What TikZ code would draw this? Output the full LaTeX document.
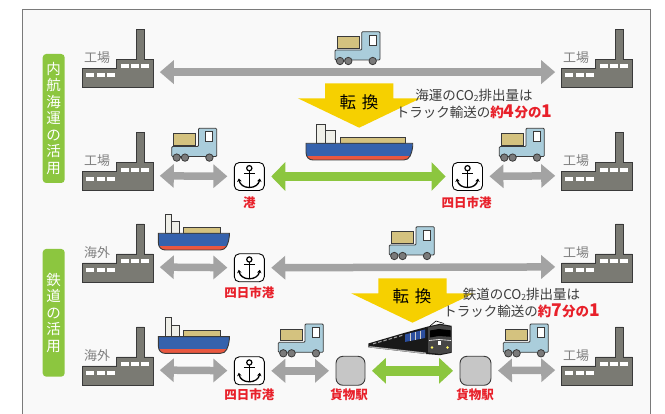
\documentclass[tikz,border=0pt]{standalone}
\usepackage{fontspec}
\setmainfont{Noto Sans CJK JP}
\usetikzlibrary{arrows.meta}

\definecolor{cPanel}{HTML}{F9F9F9}
\definecolor{cFrame}{HTML}{7A7A7A}
\definecolor{cArrow}{HTML}{A3A3A3}
\definecolor{cLeaf}{HTML}{8CC63F}
\definecolor{cSignal}{HTML}{F6D000}
\definecolor{cFactory}{HTML}{7A7A73}
\definecolor{cLine}{HTML}{3A3A3A}
\definecolor{cCargo}{HTML}{D4C27F}
\definecolor{cCab}{HTML}{AACDDB}
\definecolor{cWheel}{HTML}{7A7A7A}
\definecolor{cHull}{HTML}{3562AD}
\definecolor{cKeel}{HTML}{E9573F}
\definecolor{cBridge}{HTML}{EFEFE8}
\definecolor{cRed}{HTML}{E8202A}
\definecolor{cGrayText}{HTML}{808080}
\definecolor{cNote}{HTML}{3D3D3D}
\definecolor{cStation}{HTML}{C6C6C6}
\definecolor{cTrainBlue}{HTML}{2C4F9E}

% CO2 with a lowered small 2
\newcommand{\cotwo}{CO\raisebox{-1.2pt}{\fontsize{8.5}{8.5}\selectfont 2}}
\newcommand{\bignum}[1]{{\fontsize{17.5}{16.5}\selectfont #1}}

% ship hull: blue body with a red keel stripe
\newcommand{\hullshape}[1]{%
  \begin{scope}
    \clip (0,0) -- (#1,0) -- (#1,3) .. controls (#1-1,11) and (#1-3,16.7) .. (#1-9,16.7) -- (7,16.7) .. controls (3,16.7) and (0,14) .. (0,9) -- cycle;
    \fill[cHull] (-1,-1) rectangle (#1+1,12.7);
    \fill[cKeel] (-1,12.7) rectangle (#1+1,18);
  \end{scope}
  \draw[cLine, line width=0.9pt] (0,0) -- (#1,0) -- (#1,3) .. controls (#1-1,11) and (#1-3,16.7) .. (#1-9,16.7) -- (7,16.7) .. controls (3,16.7) and (0,14) .. (0,9) -- cycle;
}

\tikzset{
  pics/factory/.style={code={
    \filldraw[fill=cFactory, draw=cLine, line width=0.9pt] (0,0) -- (70.6,0) -- (70.6,-28) -- (61.3,-28) -- (61.3,-58) -- (54,-58) -- (54,-28) -- (34,-28) -- (34,-19) -- (0,-19) -- cycle;
    \foreach \wx in {3.3,14,24.7} \fill[white] (\wx,-14) rectangle ++(8,4);
    \foreach \wx in {38.3,48.3,58.3} \fill[white] (\wx,-23) rectangle ++(8,4);
  }},
  pics/truck/.style={code={
    \filldraw[fill=cCargo, draw=cLine, line width=0.8pt] (2,5) rectangle (24,16.7);
    \filldraw[fill=cCab, draw=cLine, line width=0.8pt, rounded corners=1pt] (0,18.3) -- (26.7,18.3) -- (26.7,0) -- (45,0) -- (45,28.3) -- (0,28.3) -- cycle;
    \filldraw[fill=white, draw=cLine, line width=0.7pt] (34,3.3) rectangle (41,13.3);
    \foreach \wx in {5,13.3,37.7} \filldraw[fill=cWheel, draw=cLine, line width=0.8pt] (\wx,29.3) circle (3.7pt);
  }},
  pics/bigship/.style={code={
    \filldraw[fill=cBridge, draw=cLine, line width=0.7pt] (10.7,-19) rectangle (19.7,0);
    \filldraw[fill=cBridge, draw=cLine, line width=0.7pt] (19.7,-12.6) rectangle (29.7,0);
    \filldraw[fill=cCargo, draw=cLine, line width=0.7pt] (34,-6) rectangle (99,0);
    \hullshape{106.7}
  }},
  pics/smallship/.style={code={
    \filldraw[fill=cBridge, draw=cLine, line width=0.7pt] (7.4,-19.3) rectangle (13.4,0);
    \filldraw[fill=cBridge, draw=cLine, line width=0.7pt] (13.4,-11.6) rectangle (21,0);
    \filldraw[fill=cCargo, draw=cLine, line width=0.7pt] (25,-6) rectangle (62.4,0);
    \hullshape{71}
  }},
  pics/anchorsign/.style={code={
    \draw[line width=1.2pt] (0,-8.3) circle (2.6pt);
    \draw[line width=1.3pt] (0,-5.7) -- (0,10.8);
    \draw[line width=1.3pt] (-5.5,-3.3) -- (5.5,-3.3);
    \draw[line width=1.3pt, {Stealth[length=3.2pt,width=4.5pt]}-{Stealth[length=3.2pt,width=4.5pt]}] (-10.5,2) .. controls (-9.5,8) and (-5.5,11) .. (0,11) .. controls (5.5,11) and (9.5,8) .. (10.5,2);
  }},
  pics/shiftarrow/.style={code={
    \fill[cSignal] (-34.2,0) -- (34.2,0) -- (34.2,15) -- (61.3,15) -- (0,44.4) -- (-61.3,15) -- (-34.2,15) -- cycle;
  }},
  facbox/.style={anchor=south west, minimum width=70.6pt, minimum height=58pt, inner sep=0pt, outer sep=0pt},
  facport/.style={anchor=south west, minimum width=70.6pt, minimum height=2pt, inner sep=0pt, outer sep=0pt},
  faclabel/.style={text=cGrayText, font=\fontsize{13}{13}\selectfont, inner sep=0pt},
  portbox/.style={draw=black, fill=white, rounded corners=5pt, minimum width=30pt, minimum height=28pt, line width=0.9pt, inner sep=0pt},
  stationbox/.style={draw=cLine, fill=cStation, rounded corners=7pt, minimum height=29pt, line width=0.9pt, inner sep=0pt},
  redlabel/.style={text=cRed, font=\fontsize{12.5}{12.5}\selectfont\bfseries, inner sep=0pt},
  sidebox/.style={fill=cLeaf, rounded corners=3.5pt, minimum width=22pt, text=white, align=center, font=\fontsize{14.5}{16.5}\selectfont, inner sep=0pt},
  notetext/.style={text=cNote, align=center, font=\fontsize{13.5}{16.5}\selectfont, inner sep=0pt},
  shifttext/.style={text=black, font=\fontsize{16.5}{16.5}\selectfont, inner sep=0pt},
  grayarrow/.style={draw=cArrow, line width=7.5pt, {Triangle[length=14pt,width=23pt]}-{Triangle[length=14pt,width=23pt]}, shorten <=6.5pt, shorten >=6.5pt},
  greenarrow/.style={draw=cLeaf, line width=9.5pt, {Triangle[length=14pt,width=28pt]}-{Triangle[length=14pt,width=28pt]}, shorten <=6.5pt, shorten >=6.5pt},
}

% factory: name, x, y of lower-left corner, caption
\newcommand{\factory}[4]{%
  \node[facbox] (#1) at (#2,#3) {};
  \pic at (#1.south west) {factory};
  \node[faclabel] (#1-t) at ([xshift=14.5pt,yshift=29.8pt]#1.south west) {#4};
  \node[facport] (#1-p) at ([yshift=14.2pt]#1.south west) {};
}

\begin{document}
\begin{tikzpicture}[x=1pt,y=-1pt]
\useasboundingbox (0,0) rectangle (665,414);
\clip (0,0) rectangle (665,414);
\fill[white] (0,0) rectangle (665,414);
\draw[cFrame, fill=cPanel, line width=1pt] (22.7,9.3) rectangle (650,440);

% section tags
\node[sidebox, minimum height=129pt] (tagSea) at (53.7,118.5) {内\\航\\海\\運\\の\\活\\用};
\node[sidebox, minimum height=127.7pt] (tagRail) at (53.7,312.8) {鉄\\道\\の\\活\\用};

% factories
\factory{f1L}{82.7}{87.3}{工場}
\factory{f1R}{561.7}{87.3}{工場}
\factory{f2L}{82.7}{190.7}{工場}
\factory{f2R}{561.7}{190.7}{工場}
\factory{f3L}{82.7}{282}{海外}
\factory{f3R}{561.7}{282}{工場}
\factory{f4L}{82.7}{385}{海外}
\factory{f4R}{561.7}{385}{工場}

% ports
\node[portbox] (a2L) at (249.3,176.5) {};
\node[portbox] (a2R) at (467.5,176.5) {};
\node[portbox] (a3) at (249.3,267.8) {};
\node[portbox] (a4) at (249.3,370.8) {};
\foreach \p in {a2L,a2R,a3,a4} \pic at (\p) {anchorsign};
\node[redlabel] (a2L-t) at (249.3,202.5) {港};
\node[redlabel] (a2R-t) at (466.5,203) {四日市港};
\node[redlabel] (a3-t) at (249.3,292.3) {四日市港};
\node[redlabel] (a4-t) at (249.3,394.5) {四日市港};

% freight stations
\node[stationbox, minimum width=29pt] (s4L) at (350.5,370.8) {};
\node[stationbox, minimum width=31pt] (s4R) at (475.5,370.8) {};
\node[redlabel] (s4L-t) at (349.2,395) {貨物駅};
\node[redlabel] (s4R-t) at (475,395) {貨物駅};

% trucks
\pic at (335,31.7) {truck};
\pic at (171.7,128.3) {truck};
\pic at (499.3,128.3) {truck};
\pic at (389.3,226.7) {truck};
\pic at (278.3,324) {truck};
\pic at (503.3,324) {truck};

% ships
\pic at (306,143.3) {bigship};
\pic at (158.3,233.3) {smallship};
\pic at (158.3,336.7) {smallship};

% transport links
\draw[grayarrow] (f1L-p) -- (f1R-p);
\draw[grayarrow] (f2L-p) -- (a2L);
\draw[greenarrow] (a2L) -- (a2R);
\draw[grayarrow] (a2R) -- (f2R-p);
\draw[grayarrow] (f3L-p) -- (a3);
\draw[grayarrow] (a3) -- (f3R-p);
\draw[grayarrow] (f4L-p) -- (a4);
\draw[grayarrow] (a4) -- (s4L);
\draw[greenarrow, {Triangle[length=14pt,width=25pt]}-{Triangle[length=14pt,width=25pt]}] (s4L) -- (s4R);
\draw[grayarrow] (s4R) -- (f4R-p);

% modal shift arrows
\pic at (359.2,83.3) {shiftarrow};
\node[shifttext] (shiftSea) at (359,102) {転\hspace{6pt}換};
\pic at (412.5,278.3) {shiftarrow};
\node[shifttext] (shiftRail) at (412,296.5) {転\hspace{6pt}換};

% CO2 notes
\node[notetext] (noteSea) at (474,104) {海運の\cotwo{}排出量は\\トラック輸送の\textcolor{cRed}{\bfseries 約\bignum{4}分の\bignum{1}}};
\node[notetext] (noteRail) at (521.5,303) {鉄道の\cotwo{}排出量は\\トラック輸送の\textcolor{cRed}{\bfseries 約\bignum{7}分の\bignum{1}}};

% freight train in perspective
\fill[black!90] (368.3,343.5) -- (404,333) -- (428,326.5) -- (440,323.8) -- (451.7,325.8) -- (451.7,352.8) -- (440,355.2) -- (426,354) -- (368.3,347.3) -- cycle;
\foreach \k in {0,...,5}
  \fill[gray!70] ({373+5.2*\k},{343.3-1.5*\k}) -- ++(3.4,-1) -- ++(0,1.1) -- ++(-3.4,1) -- cycle;
\fill[gray!60] (368.3,347.3) -- (426,354) -- (426,352.6) -- (370,346.2) -- cycle;
\fill[cTrainBlue] (405,334.5) -- (425,329.5) -- (425,338) -- (405,342) -- cycle;
\draw[gray!40, line width=0.4pt] (410,333.2) -- (410,340.8) (415,332) -- (415,339.8) (420,330.7) -- (420,338.8);
\fill[gray!55!black] (428,327.5) -- (440,325) -- (451.7,327) -- (451.7,352) -- (440,354) -- (428,352.5) -- cycle;
\fill[black] (430,330.5) -- (439,329) -- (450.5,330.3) -- (450.5,336.8) -- (439,336) -- (430,337.5) -- cycle;
\draw[white, line width=0.6pt] (429,340.5) -- (439,339.5) -- (451,340.5);
\fill[white] (437.5,341.5) rectangle (441,345.5);
\fill[yellow!60!white] (432,347.5) circle (1.3pt) (447.5,347.5) circle (1.3pt);
\draw[black, line width=0.6pt] (430,326) -- (436,321) -- (444,323.5);
\end{tikzpicture}
\end{document}
